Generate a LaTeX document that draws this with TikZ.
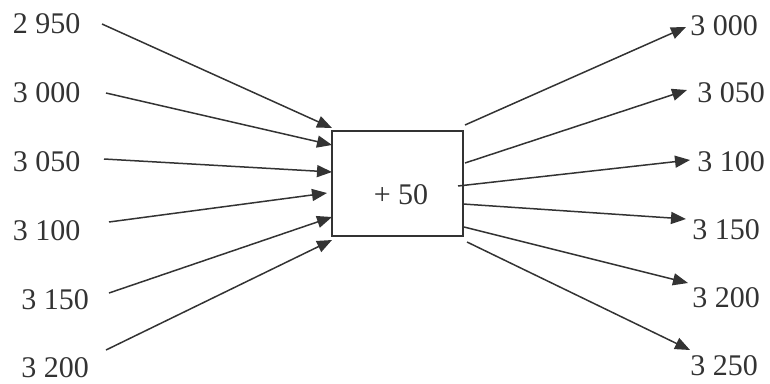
\documentclass[tikz,border=0pt]{standalone}
\usepackage{fontspec}
\setmainfont{Liberation Serif}
\usetikzlibrary{arrows.meta}
\definecolor{ink}{HTML}{333333}
\begin{document}
\begin{tikzpicture}[x=1pt,y=-1pt,
  lbl/.style={inner sep=0pt,font=\fontsize{30}{33}\selectfont,text=ink},
  conn/.style={draw=ink,line width=1.5pt,-{Triangle[length=15pt,width=12pt]}},
  boxst/.style={draw=ink,line width=1.5pt,minimum width=131pt,minimum height=105pt,inner sep=0pt}]
\useasboundingbox (0,0) rectangle (770,383);
\node[boxst] (box) at (397.5,183.5) {};
\node[lbl] (plus) at (401,195) {+ 50};
% left labels
\node[lbl] (l1) at (46.5,24) {2 950};
\node[lbl] (l2) at (46.5,93) {3 000};
\node[lbl] (l3) at (46.5,162) {3 050};
\node[lbl] (l4) at (46.5,231) {3 100};
\node[lbl] (l5) at (55,300) {3 150};
\node[lbl] (l6) at (55,368) {3 200};
% right labels
\node[lbl] (r1) at (724,26) {3 000};
\node[lbl] (r2) at (731,93) {3 050};
\node[lbl] (r3) at (731,162) {3 100};
\node[lbl] (r4) at (726,230) {3 150};
\node[lbl] (r5) at (726,298) {3 200};
\node[lbl] (r6) at (724,366) {3 250};
% left arrow ends
\coordinate (a1) at (102,24);  \coordinate (b1) at (332,128);
\coordinate (a2) at (106,93);  \coordinate (b2) at (332,145);
\coordinate (a3) at (104,159); \coordinate (b3) at (332,172);
\coordinate (a4) at (109,222); \coordinate (b4) at (327,193);
\coordinate (a5) at (109,293); \coordinate (b5) at (332,217);
\coordinate (a6) at (106,350); \coordinate (b6) at (332,240);
% right arrow ends
\coordinate (c1) at (465,125); \coordinate (d1) at (686,27);
\coordinate (c2) at (465,163); \coordinate (d2) at (687,90);
\coordinate (c3) at (458,186); \coordinate (d3) at (690,160);
\coordinate (c4) at (463,204); \coordinate (d4) at (686,219);
\coordinate (c5) at (464,227); \coordinate (d5) at (688,283);
\coordinate (c6) at (467,242); \coordinate (d6) at (690,350);
\foreach \i in {1,...,6} {
  \draw[conn] (a\i) -- (b\i);
  \draw[conn] (c\i) -- (d\i);
}
\end{tikzpicture}
\end{document}
